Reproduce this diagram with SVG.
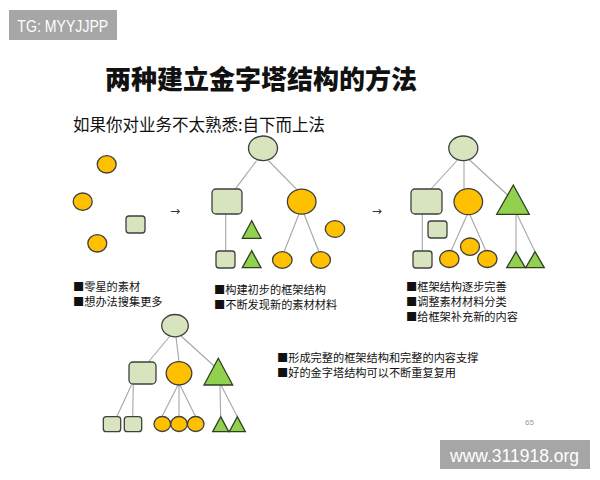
<svg xmlns="http://www.w3.org/2000/svg" width="600" height="480" viewBox="0 0 600 480">
<style>
.g{fill:#d7e4bd;stroke:#3f3f3f;stroke-width:1.3}
.o{fill:#ffc000;stroke:#3f3f3f;stroke-width:1.3}
.t{fill:#92d050;stroke:#2e3f22;stroke-width:1.3}
.c line{stroke:#a6a6a6;stroke-width:1.1}
.cjk{font-family:"Noto Sans CJK SC","Noto Sans",sans-serif;fill:#111}
.lbl{font-size:11.2px}
.wm{fill:#a6a6a6}
.wmt{font-family:"Liberation Sans","Noto Sans",sans-serif;fill:#fff}
.arr{font-family:"DejaVu Sans",sans-serif;font-size:12px;fill:#333}
</style>
<rect width="600" height="480" fill="#fff"/>
<g id="tg-badge"><rect class="wm" x="9" y="10" width="108" height="30"/><text class="wmt" x="17.3" y="31.7" font-size="17" textLength="91" lengthAdjust="spacingAndGlyphs">TG: MYYJJPP</text></g>
<g id="title"><text class="cjk" x="261" y="89" font-size="26" font-weight="900" text-anchor="middle">两种建立金字塔结构的方法</text></g>
<g id="subtitle"><text class="cjk" x="73" y="131" font-size="16.5">如果你对业务不太熟悉:自下而上法</text></g>

<g id="connectors" class="c">
<line x1="256.7" y1="160.5" x2="235" y2="189.3"/>
<line x1="268.3" y1="160.5" x2="296.7" y2="189.3"/>
<line x1="225.7" y1="214" x2="225.7" y2="251"/>
<line x1="299" y1="214" x2="284" y2="252"/>
<line x1="304" y1="214" x2="319" y2="252"/>
<line x1="458" y1="159.5" x2="431" y2="189"/>
<line x1="464" y1="160.6" x2="464" y2="188.5"/>
<line x1="469" y1="159.5" x2="507.6" y2="195"/>
<line x1="422.3" y1="214" x2="422.3" y2="251"/>
<line x1="467" y1="215" x2="451" y2="251"/>
<line x1="470" y1="215" x2="486" y2="251"/>
<line x1="516" y1="214.3" x2="516" y2="251.7"/>
<line x1="517" y1="214.3" x2="535" y2="251.7"/>
<line x1="170" y1="336" x2="148.3" y2="362"/>
<line x1="176" y1="337" x2="179" y2="361.7"/>
<line x1="181" y1="336" x2="214.2" y2="366"/>
<line x1="131.7" y1="384.5" x2="116.7" y2="416.7"/>
<line x1="133.3" y1="384.5" x2="132.7" y2="416.7"/>
<line x1="178" y1="385" x2="162" y2="416.5"/>
<line x1="179" y1="385" x2="179" y2="416.5"/>
<line x1="180" y1="385" x2="195.5" y2="416.5"/>
<line x1="220" y1="385" x2="220.7" y2="416.7"/>
<line x1="221" y1="385" x2="237.3" y2="416.7"/>
</g>

<g id="panel1">
<ellipse class="o" cx="106.7" cy="164.3" rx="9.5" ry="8.7"/>
<ellipse class="o" cx="82.7" cy="201.7" rx="9.5" ry="8.7"/>
<ellipse class="o" cx="97.3" cy="243.3" rx="9.5" ry="8.7"/>
<rect class="g" x="126" y="216" width="19" height="17" rx="3"/>
<text class="cjk lbl" x="73" y="290.5">■零星的素材</text>
<text class="cjk lbl" x="73" y="305.5">■想办法搜集更多</text>
</g>
<g id="arrow1"><text class="arr" x="175" y="215" text-anchor="middle">→</text></g>

<g id="panel2">
<ellipse class="g" cx="263" cy="148.3" rx="14.5" ry="12.3"/>
<rect class="g" x="212" y="189" width="30" height="25" rx="4"/>
<ellipse class="o" cx="301.7" cy="201.7" rx="14.3" ry="12.5"/>
<rect class="g" x="216" y="251" width="19" height="17" rx="3"/>
<polygon class="t" points="251.7,220.7 242.3,238.3 261,238.3"/>
<polygon class="t" points="251.7,250.7 242.3,267.7 261,267.7"/>
<ellipse class="o" cx="335" cy="229" rx="9.7" ry="8.3"/>
<ellipse class="o" cx="282.3" cy="260" rx="9.8" ry="8.3"/>
<ellipse class="o" cx="320.7" cy="260" rx="9.8" ry="8.3"/>
<text class="cjk lbl" x="214" y="294">■构建初步的框架结构</text>
<text class="cjk lbl" x="214" y="309">■不断发现新的素材材料</text>
</g>
<g id="arrow2"><text class="arr" x="376.7" y="215" text-anchor="middle">→</text></g>

<g id="panel3">
<ellipse class="g" cx="463.3" cy="148.3" rx="14.5" ry="12.3"/>
<rect class="g" x="411" y="189" width="31" height="25" rx="4"/>
<ellipse class="o" cx="468.3" cy="201.7" rx="14.3" ry="13"/>
<polygon class="t" points="513.3,185 496.7,214.3 529.3,214.3"/>
<rect class="g" x="428" y="221" width="19" height="17" rx="3"/>
<rect class="g" x="413" y="251" width="19" height="17" rx="3"/>
<ellipse class="o" cx="470" cy="246.7" rx="9.5" ry="8.7"/>
<ellipse class="o" cx="449.3" cy="259" rx="9.7" ry="8.5"/>
<ellipse class="o" cx="487.3" cy="259" rx="9.7" ry="8.5"/>
<polygon class="t" points="516,251.7 506.7,267.7 525.3,267.7"/>
<polygon class="t" points="535,251.7 525.7,267.7 544.3,267.7"/>
<text class="cjk lbl" x="406" y="290.5">■框架结构逐步完善</text>
<text class="cjk lbl" x="406" y="305.5">■调整素材材料分类</text>
<text class="cjk lbl" x="406" y="320.5">■给框架补充新的内容</text>
</g>

<g id="panel4">
<ellipse class="g" cx="175" cy="325.7" rx="13.3" ry="11.2"/>
<rect class="g" x="129" y="362" width="27" height="22" rx="4"/>
<ellipse class="o" cx="179" cy="373.3" rx="12.8" ry="11.7"/>
<polygon class="t" points="218.3,358.3 204,385 232.7,385"/>
<rect class="g" x="103.3" y="416.7" width="17.4" height="15" rx="3"/>
<rect class="g" x="124.3" y="416.7" width="17.4" height="15" rx="3"/>
<ellipse class="o" cx="162.3" cy="424" rx="8.3" ry="7.5"/>
<ellipse class="o" cx="179" cy="424" rx="8.3" ry="7.5"/>
<ellipse class="o" cx="195.7" cy="424" rx="8.3" ry="7.5"/>
<polygon class="t" points="220.7,416.7 212.7,431.7 228.7,431.7"/>
<polygon class="t" points="237.3,416.7 229.3,431.7 245.3,431.7"/>
<text class="cjk lbl" x="277" y="362">■形成完整的框架结构和完整的内容支撑</text>
<text class="cjk lbl" x="277" y="377">■好的金字塔结构可以不断重复复用</text>
</g>

<g id="page-number"><text x="525" y="425" font-family="Liberation Sans,sans-serif" font-size="8" fill="#999">65</text></g>
<g id="url-badge"><rect class="wm" x="440" y="440" width="150" height="29"/><text class="wmt" x="450" y="461.5" font-size="18" textLength="129" lengthAdjust="spacingAndGlyphs">www.311918.org</text></g>
</svg>
